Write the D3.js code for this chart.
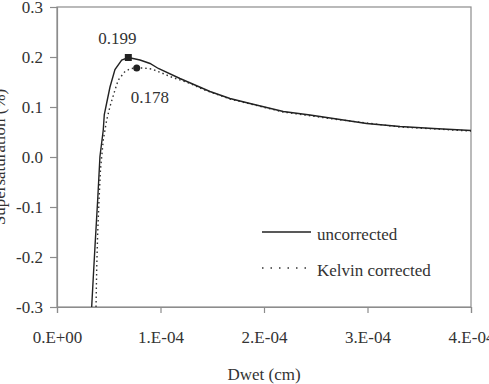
<!DOCTYPE html>
<html><head><meta charset="utf-8">
<script src="https://cdn.jsdelivr.net/npm/d3@7"></script>
<style>body{margin:0;background:#fff}svg{display:block}svg text{font-family:"Liberation Serif","Times New Roman","DejaVu Serif",serif !important;fill:#333}</style>
</head><body><svg id="c" width="489" height="384"></svg>
<script>
// Dwet (cm) and supersaturation (%) for each series
const uncorrectedX = [3.35e-5,3.51e-5,3.67e-5,3.93e-5,4.15e-5,4.47e-5,4.57e-5,4.80e-5,5.12e-5,5.60e-5,6.25e-5,6.89e-5,8.02e-5,8.99e-5,9.79e-5,1.188e-4,1.478e-4,1.671e-4,1.865e-4,2.186e-4,2.444e-4,2.670e-4,2.992e-4,3.314e-4,3.636e-4,4.0e-4];
const uncorrectedY = [-0.300,-0.239,-0.179,-0.086,0.001,0.054,0.085,0.108,0.140,0.175,0.194,0.199,0.194,0.187,0.177,0.157,0.131,0.117,0.107,0.091,0.084,0.077,0.067,0.061,0.057,0.053];
const kelvinX = [3.77e-5,3.84e-5,3.93e-5,4.06e-5,4.20e-5,4.47e-5,4.80e-5,5.12e-5,5.60e-5,5.92e-5,6.57e-5,7.15e-5,7.70e-5,8.34e-5,9.15e-5,1.024e-4,1.092e-4,1.285e-4,1.414e-4,1.671e-4,2.186e-4,2.670e-4,3.314e-4,4.0e-4];
const kelvinY = [-0.300,-0.219,-0.152,-0.086,-0.026,0.034,0.074,0.101,0.134,0.154,0.171,0.177,0.178,0.178,0.176,0.167,0.161,0.147,0.135,0.116,0.090,0.076,0.060,0.052];
const xTicks = [0,1e-4,2e-4,3e-4,4e-4];
const xTickLabels = ["0.E+00","1.E-04","2.E-04","3.E-04","4.E-04"];
const yTicks = [-0.3,-0.2,-0.1,0.0,0.1,0.2,0.3];
const yTickLabels = ["-0.3","-0.2","-0.1","0.0","0.1","0.2","0.3"];
const peakUncorrected = {x:6.89e-5, y:0.199, label:"0.199"};
const peakKelvin = {x:7.70e-5, y:0.178, label:"0.178"};
const legendLabels = ["uncorrected","Kelvin corrected"];

const FONT = "'Liberation Serif', 'Times New Roman', 'DejaVu Serif', serif";
const svg = d3.select("#c");
const L=57, R=471, T=7, B=307;
const x = d3.scaleLinear().domain([0,4e-4]).range([L,R]);
const y = d3.scaleLinear().domain([-0.3,0.3]).range([B,T]);
const axisCol="#8c8c8c";

svg.append("rect").attr("x",L).attr("y",T).attr("width",R-L).attr("height",B-T)
  .attr("fill","none").attr("stroke",axisCol).attr("stroke-width",1.2);

const xa = svg.append("g").attr("transform",`translate(0,${B})`)
  .call(d3.axisBottom(x).tickValues(xTicks).tickSize(6).tickFormat((d,i)=>xTickLabels[i]));
const ya = svg.append("g").attr("transform",`translate(${L},0)`)
  .call(d3.axisLeft(y).tickValues(yTicks).tickSize(7).tickFormat((d,i)=>yTickLabels[i]));
[xa,ya].forEach(g=>{
  g.attr("font-family",FONT).attr("font-size",17);
  g.select(".domain").attr("stroke",axisCol).attr("stroke-width",1.2);
  g.selectAll(".tick line").attr("stroke",axisCol).attr("stroke-width",1.2);
  g.selectAll("text").style("font-family",FONT).style("font-size","17px").attr("fill","#333");
});
xa.selectAll("text").attr("dy",null).attr("y",36);
ya.selectAll("text").attr("x",-14).attr("dy","0.35em");

function label(sel){ return sel.style("font-family",FONT).style("font-size","17px").attr("fill","#333"); }
label(svg.append("text").attr("x",264).attr("y",380).attr("text-anchor","middle").text("Dwet (cm)"));
label(svg.append("text").attr("transform","translate(5,157) rotate(-90)").attr("text-anchor","middle").text("Supersaturation (%)"));

const line = d3.line().x(d=>x(d[0])).y(d=>y(d[1]));
svg.append("path").datum(kelvinX.map((v,i)=>[v,kelvinY[i]])).attr("d",line)
  .attr("fill","none").attr("stroke","#333").attr("stroke-width",1.4).attr("stroke-dasharray","1.5,3");
svg.append("path").datum(uncorrectedX.map((v,i)=>[v,uncorrectedY[i]])).attr("d",line)
  .attr("fill","none").attr("stroke","#222").attr("stroke-width",1.4);

svg.append("rect").attr("x",x(peakUncorrected.x)-3.5).attr("y",y(peakUncorrected.y)-3.5)
  .attr("width",7).attr("height",7).attr("fill","#222");
svg.append("circle").attr("cx",x(peakKelvin.x)).attr("cy",y(peakKelvin.y)).attr("r",3.5).attr("fill","#222");
label(svg.append("text").attr("x",x(peakUncorrected.x)-30).attr("y",y(peakUncorrected.y)-14).text(peakUncorrected.label));
label(svg.append("text").attr("x",x(peakKelvin.x)-6).attr("y",y(peakKelvin.y)+35).text(peakKelvin.label));

svg.append("line").attr("x1",262).attr("x2",311).attr("y1",232).attr("y2",232).attr("stroke","#222").attr("stroke-width",1.4);
svg.append("line").attr("x1",262).attr("x2",309).attr("y1",268).attr("y2",268).attr("stroke","#333").attr("stroke-width",1.4).attr("stroke-dasharray","1.5,7");
label(svg.append("text").attr("x",317).attr("y",240).text(legendLabels[0]));
label(svg.append("text").attr("x",317).attr("y",276).text(legendLabels[1]));
</script></body></html>
